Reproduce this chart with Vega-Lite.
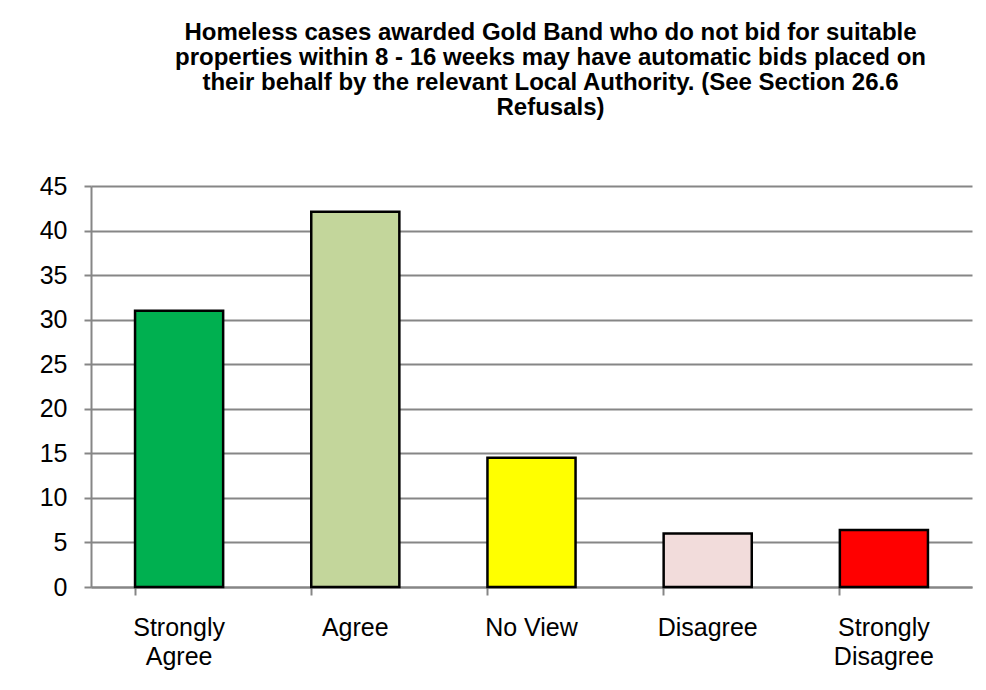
{
  "$schema": "https://vega.github.io/schema/vega-lite/v6.json",
  "autosize": "none",
  "width": 881,
  "height": 401,
  "padding": {"left": 91, "top": 186, "right": 14, "bottom": 103},
  "background": "white",
  "title": {
    "text": ["Homeless cases awarded Gold Band who do not bid for suitable", "properties within 8 - 16 weeks may have automatic bids placed on", "their behalf by the relevant Local Authority. (See Section 26.6", "Refusals)"],
    "font": "Liberation Sans",
    "fontSize": 24,
    "fontWeight": "bold",
    "color": "black",
    "lineHeight": 25,
    "anchor": "middle",
    "dx": 19,
    "offset": 54
  },
  "data": {
    "values": [
      {"response": "Strongly Agree", "value": 31},
      {"response": "Agree", "value": 42.1},
      {"response": "No View", "value": 14.5},
      {"response": "Disagree", "value": 6},
      {"response": "Strongly Disagree", "value": 6.4}
    ]
  },
  "mark": {"type": "bar", "stroke": "black", "strokeWidth": 2.5},
  "encoding": {
    "x": {
      "field": "response",
      "type": "nominal",
      "sort": null,
      "title": null,
      "scale": {"paddingInner": 0.5, "paddingOuter": 0.25},
      "axis": {
        "labelAngle": 0,
        "labelFont": "Liberation Sans",
        "labelFontSize": 25,
        "labelColor": "black",
        "labelPadding": 20,
        "labelLineHeight": 29,
        "labelExpr": "indexof(datum.label,'Strongly')==0 ? split(datum.label,' ') : datum.label",
        "bandPosition": 0,
        "tickSize": 8,
        "tickColor": "#868686",
        "tickWidth": 2,
        "domainColor": "#868686",
        "domainWidth": 2,
        "grid": false
      }
    },
    "y": {
      "field": "value",
      "type": "quantitative",
      "title": null,
      "scale": {"domain": [0, 45], "nice": false},
      "axis": {
        "values": [0, 5, 10, 15, 20, 25, 30, 35, 40, 45],
        "labelFont": "Liberation Sans",
        "labelFontSize": 25,
        "labelColor": "black",
        "labelPadding": 17,
        "tickSize": 7,
        "tickColor": "#868686",
        "tickWidth": 2,
        "domainColor": "#868686",
        "domainWidth": 2,
        "grid": true,
        "gridColor": "#868686",
        "gridWidth": 2
      }
    },
    "color": {
      "field": "response",
      "type": "nominal",
      "legend": null,
      "scale": {
        "domain": ["Strongly Agree", "Agree", "No View", "Disagree", "Strongly Disagree"],
        "range": ["#00B050", "#C3D69B", "#FFFF00", "#F2DCDB", "#FF0000"]
      }
    }
  },
  "config": {"view": {"stroke": null}}
}
